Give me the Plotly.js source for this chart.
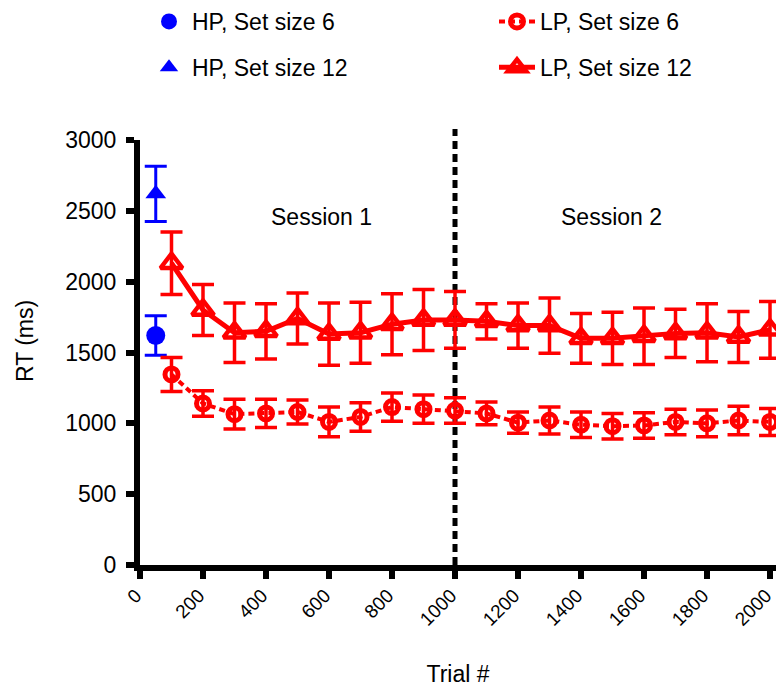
<!DOCTYPE html>
<html>
<head>
<meta charset="utf-8">
<script src="https://cdn.plot.ly/plotly-3.0.1.min.js"></script>
<style>
  html, body { margin: 0; padding: 0; background: #fff; }
  #chart { width: 776px; height: 688px; }
</style>
</head>
<body>
<div id="chart"></div>
<script>
// ---- data ----
const hpTrial = [50];
const hp6 = [1620];
const hp6Err = [140];
const hp12 = [2620];
const hp12Err = [195];

const lpTrials = [100, 200, 300, 400, 500, 600, 700, 800, 900, 1000,
                  1100, 1200, 1300, 1400, 1500, 1600, 1700, 1800, 1900, 2000];
const lp6 = [1345, 1140, 1065, 1070, 1080, 1010, 1045, 1115, 1100, 1090,
             1070, 1005, 1020, 990, 980, 985, 1010, 1000, 1020, 1010];
const lp6Err = [120, 90, 105, 100, 85, 105, 100, 100, 100, 90,
                80, 75, 95, 90, 90, 90, 90, 95, 100, 95];
const lp12 = [2130, 1800, 1640, 1650, 1740, 1630, 1640, 1700, 1730, 1730,
              1720, 1690, 1690, 1600, 1600, 1615, 1635, 1640, 1610, 1660];
const lp12Err = [220, 180, 210, 195, 180, 220, 215, 215, 215, 200,
                 125, 160, 195, 175, 185, 200, 170, 205, 180, 200];

const xTicks = [0, 200, 400, 600, 800, 1000, 1200, 1400, 1600, 1800, 2000];
const yTicks = [0, 500, 1000, 1500, 2000, 2500, 3000];
const sessionLabels = ['Session 1', 'Session 2'];
const sessionX = [575, 1498];
const sessionBoundary = 1000;
const yTitle = 'RT (ms)';
const xTitle = 'Trial #';

const FONT = '"Liberation Sans", Arial, Helvetica, sans-serif';
const BLUE = '#0000ff';
const RED = '#ff0000';

const traces = [
  {
    x: hpTrial, y: hp6, name: 'HP, Set size 6', type: 'scatter', mode: 'markers',
    legend: 'legend', legendgroup: 'a',
    marker: { symbol: 'circle', size: 19, color: BLUE },
    error_y: { type: 'data', array: hp6Err, visible: true, color: BLUE, thickness: 3, width: 11 }
  },
  {
    x: hpTrial, y: hp12, name: 'HP, Set size 12', type: 'scatter', mode: 'markers',
    legend: 'legend', legendgroup: 'b',
    marker: { symbol: 'triangle-up', size: 18, color: BLUE },
    error_y: { type: 'data', array: hp12Err, visible: true, color: BLUE, thickness: 3, width: 11 }
  },
  {
    x: lpTrials, y: lp6, name: 'LP, Set size 6', type: 'scatter', mode: 'lines+markers',
    legend: 'legend2', legendgroup: 'c',
    line: { color: RED, width: 4, dash: '6px,4px' },
    marker: { symbol: 'circle-open', size: 13, color: RED, line: { width: 5, color: RED } },
    error_y: { type: 'data', array: lp6Err, visible: true, color: RED, thickness: 3.5, width: 11 }
  },
  {
    x: lpTrials, y: lp12, name: 'LP, Set size 12', type: 'scatter', mode: 'lines+markers',
    legend: 'legend2', legendgroup: 'd',
    line: { color: RED, width: 5 },
    marker: { symbol: 'triangle-up-open', size: 19, color: RED, line: { width: 4.5, color: RED } },
    error_y: { type: 'data', array: lp12Err, visible: true, color: RED, thickness: 3.5, width: 11 }
  }
];

const legendCommon = {
  orientation: 'v', xref: 'container', yref: 'container',
  xanchor: 'left', yanchor: 'top',
  bgcolor: 'rgba(0,0,0,0)', borderwidth: 0,
  font: { family: FONT, size: 23, color: '#000' },
  traceorder: 'grouped', tracegroupgap: 13, itemsizing: 'trace', itemwidth: 36
};

const layout = {
  width: 776, height: 688,
  margin: { l: 140, r: 0, t: 140, b: 123, autoexpand: false },
  paper_bgcolor: '#fff', plot_bgcolor: '#fff',
  font: { family: FONT, size: 23, color: '#000' },
  showlegend: true,
  legend: Object.assign({}, legendCommon, { x: 146 / 776, y: 1 }),
  legend2: Object.assign({}, legendCommon, { x: 494 / 776, y: 1 }),
  xaxis: {
    range: [0, 2019], tickvals: xTicks, ticktext: xTicks.map(String),
    tickangle: -45, ticks: 'outside', ticklen: 8, tickwidth: 6, tickcolor: '#000',
    showline: true, linewidth: 6, linecolor: '#000',
    showgrid: false, zeroline: false, ticklabeloverflow: 'allow',
    ticklabelshift: -4, ticklabelstandoff: -2,
    tickfont: { family: FONT, size: 19, color: '#000' },
    title: { text: xTitle, font: { family: FONT, size: 23, color: '#000' }, standoff: 39 }
  },
  yaxis: {
    range: [0, 3000], tickvals: yTicks, ticktext: yTicks.map(String),
    ticks: 'outside', ticklen: 8, tickwidth: 6, tickcolor: '#000',
    showline: true, linewidth: 6, linecolor: '#000',
    showgrid: false, zeroline: false, ticklabelstandoff: 5,
    tickfont: { family: FONT, size: 23, color: '#000' }
  },
  shapes: [{
    type: 'line', xref: 'x', yref: 'paper',
    x0: sessionBoundary, x1: sessionBoundary, y0: 0, y1: 1.026,
    line: { color: '#000', width: 5, dash: '8px,5px' }, layer: 'below'
  }],
  annotations: sessionLabels.map((t, i) => ({
    text: t, x: sessionX[i], y: 2460, xref: 'x', yref: 'y',
    showarrow: false, font: { family: FONT, size: 23, color: '#000' }
  })).concat([{
    text: yTitle, xref: 'paper', yref: 'paper',
    x: 0, y: 0.527, xanchor: 'center', yanchor: 'middle',
    xshift: -115, textangle: -90, showarrow: false,
    font: { family: FONT, size: 23, color: '#000' }
  }])
};

Plotly.newPlot('chart', traces, layout, { displayModeBar: false, staticPlot: true });
</script>
</body>
</html>
